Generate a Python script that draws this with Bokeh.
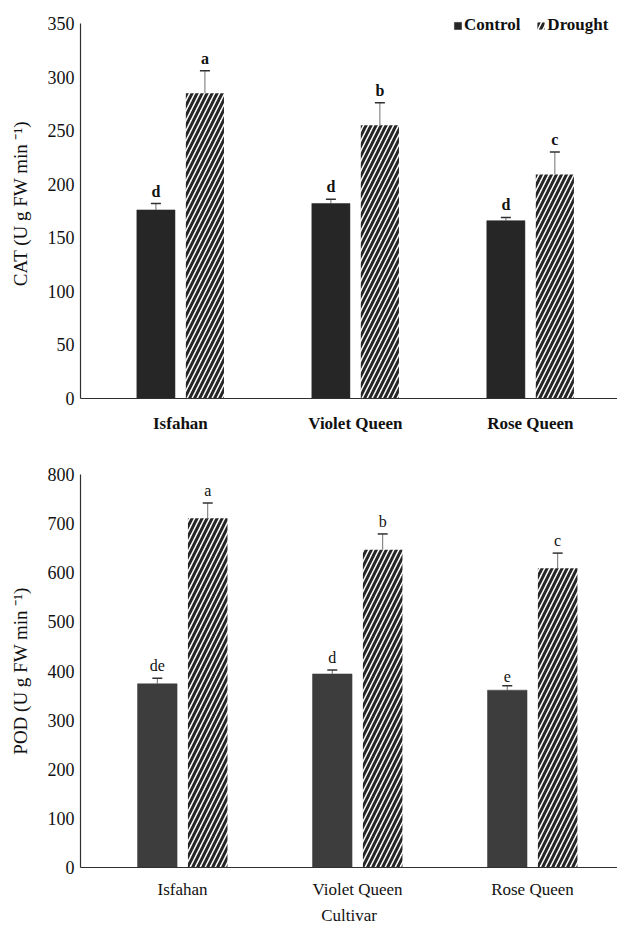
from bokeh.plotting import figure
from bokeh.models import (ColumnDataSource, Range1d, FixedTicker, Whisker, TeeHead,
                          Legend, LegendItem)
from bokeh.layouts import column
from bokeh.embed import file_html
from bokeh.resources import INLINE
from bokeh.core.properties import value

# ---------------- data ----------------
cultivars = ["Isfahan", "Violet Queen", "Rose Queen"]
treatments = ["Control", "Drought"]

cat_control = [176, 182, 166]
cat_control_err = [6, 4, 3]
cat_control_letters = ["d", "d", "d"]
cat_drought = [285, 255, 209]
cat_drought_err = [21, 21, 21]
cat_drought_letters = ["a", "b", "c"]

pod_control = [374, 394, 361]
pod_control_err = [11, 8, 9]
pod_control_letters = ["de", "d", "e"]
pod_drought = [711, 647, 609]
pod_drought_err = [31, 32, 31]
pod_drought_letters = ["a", "b", "c"]

cat_ticks = [0, 50, 100, 150, 200, 250, 300, 350]
pod_ticks = [0, 100, 200, 300, 400, 500, 600, 700, 800]

FONT = "Liberation Serif"
FONT_VAL = value(FONT)
W = 617


def make_panel(ctrl, ctrl_err, ctrl_let, dr, dr_err, dr_let, ticks, ylabel,
               height, border_top, border_bottom, y_headroom, x_start, offset, bar_w,
               ctrl_color, bold, label_standoff, xlabel=None, legend=False):
    # y_headroom: fraction of the axis span left free above the top tick (room for the legend)
    p = figure(width=W, height=height, output_backend="svg", toolbar_location=None,
               x_range=Range1d(x_start, x_start + 3.069),
               y_range=Range1d(ticks[0], ticks[-1] * (1 + y_headroom)),
               min_border_left=80, min_border_right=0,
               min_border_top=border_top, min_border_bottom=border_bottom)
    p.outline_line_color = None
    p.xgrid.visible = False
    p.ygrid.visible = False
    p.background_fill_color = "white"
    p.border_fill_color = "white"

    idx = list(range(len(cultivars)))
    xc = [i - offset for i in idx]
    xd = [i + offset for i in idx]
    src_c = ColumnDataSource(dict(x=xc, top=ctrl, up=[v + e for v, e in zip(ctrl, ctrl_err)], lab=ctrl_let))
    src_d = ColumnDataSource(dict(x=xd, top=dr, up=[v + e for v, e in zip(dr, dr_err)], lab=dr_let))

    rc = p.vbar(x="x", top="top", bottom=0, width=bar_w, source=src_c,
                fill_color=ctrl_color, line_color=ctrl_color, line_width=0.5)
    rd = p.vbar(x="x", top="top", bottom=0, width=bar_w, source=src_d,
                fill_color="white", line_color=None,
                hatch_pattern="right_diagonal_line", hatch_color="#262626",
                hatch_weight=3, hatch_scale=10)

    for src in (src_c, src_d):
        w = Whisker(source=src, base="x", lower="top", upper="up", dimension="height",
                    line_color="#707070", line_width=1,
                    lower_head=None, upper_head=TeeHead(size=10, line_color="#303030", line_width=1.5))
        p.add_layout(w)
        p.text(x="x", y="up", text="lab", source=src, text_align="center",
               text_baseline="bottom", y_offset=-4, text_font=FONT_VAL,
               text_font_size="16px", text_font_style="bold" if bold else "normal",
               text_color="#111111")

    p.xaxis.ticker = FixedTicker(ticks=idx)
    p.xaxis.major_label_overrides = {i: c for i, c in zip(idx, cultivars)}
    p.xaxis.major_tick_line_color = None
    p.xaxis.minor_tick_line_color = None
    p.xaxis.axis_line_color = "#303030"
    p.xaxis.axis_line_width = 1.2
    p.xaxis.major_label_text_font = FONT
    p.xaxis.major_label_text_font_size = "17px"
    p.xaxis.major_label_text_font_style = "bold" if bold else "normal"
    p.xaxis.major_label_text_color = "#111111"
    p.xaxis.major_label_standoff = label_standoff
    if xlabel:
        p.xaxis.axis_label = xlabel
        p.xaxis.axis_label_text_font = FONT
        p.xaxis.axis_label_text_font_size = "17px"
        p.xaxis.axis_label_text_font_style = "normal"
        p.xaxis.axis_label_text_color = "#111111"
        p.xaxis.axis_label_standoff = 4

    p.yaxis.ticker = FixedTicker(ticks=ticks)
    p.yaxis.bounds = (ticks[0], ticks[-1])
    p.yaxis.major_tick_line_color = None
    p.yaxis.minor_tick_line_color = None
    p.yaxis.axis_line_color = "#303030"
    p.yaxis.axis_line_width = 1.2
    p.yaxis.major_label_text_font = FONT
    p.yaxis.major_label_text_font_size = "18px"
    p.yaxis.major_label_text_color = "#111111"
    p.yaxis.major_label_standoff = 0
    p.yaxis.axis_label = ylabel
    p.yaxis.axis_label_text_font = FONT
    p.yaxis.axis_label_text_font_size = "19px"
    p.yaxis.axis_label_text_font_style = "normal"
    p.yaxis.axis_label_text_color = "#111111"
    p.yaxis.axis_label_standoff = 14

    if legend:
        lg = Legend(items=[LegendItem(label=treatments[0], renderers=[rc]),
                           LegendItem(label=treatments[1], renderers=[rd])],
                    orientation="horizontal", location=(373, 363),
                    border_line_alpha=0, background_fill_alpha=0,
                    glyph_width=9, glyph_height=9, label_standoff=2, spacing=16,
                    padding=0, margin=0,
                    label_text_font=FONT, label_text_font_size="17px",
                    label_text_font_style="bold", label_text_color="#111111")
        p.add_layout(lg, "center")
    return p


top = make_panel(cat_control, cat_control_err, cat_control_letters,
                 cat_drought, cat_drought_err, cat_drought_letters,
                 cat_ticks, "CAT (U g FW min \u207b\u00b9)",
                 height=445, border_top=8, border_bottom=47, y_headroom=15 / 375,
                 x_start=-0.571, offset=0.14, bar_w=0.218,
                 ctrl_color="#262626", bold=True, label_standoff=9, legend=True)

bottom = make_panel(pod_control, pod_control_err, pod_control_letters,
                    pod_drought, pod_drought_err, pod_drought_letters,
                    pod_ticks, "POD (U g FW min \u207b\u00b9)",
                    height=482, border_top=29, border_bottom=59, y_headroom=0,
                    x_start=-0.583, offset=0.144, bar_w=0.226,
                    ctrl_color="#3d3d3d", bold=False, label_standoff=6, xlabel="Cultivar")

layout = column(top, bottom, spacing=0)
open("out.html", "w").write(file_html(layout, INLINE))
